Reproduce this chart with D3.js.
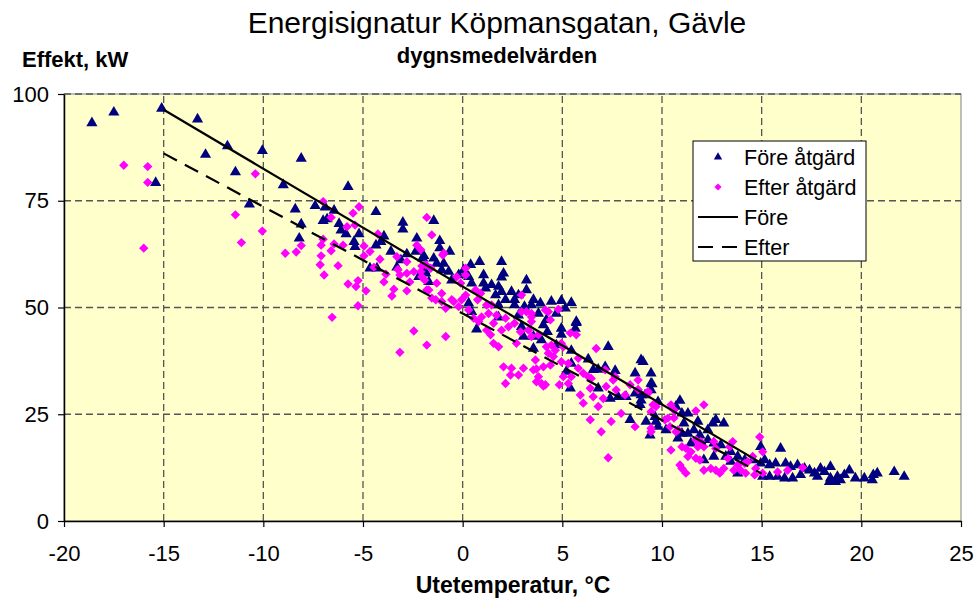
<!DOCTYPE html>
<html>
<head>
<meta charset="utf-8">
<script src="https://cdn.jsdelivr.net/npm/d3@7"></script>
<style>
  body { margin: 0; background: #fff; }
  text { font-family: "Liberation Sans", Arial, sans-serif; fill: #000; }
</style>
</head>
<body>
<svg width="976" height="602"></svg>
<script>
// dygnsmedelvärden, [utetemperatur °C, effekt kW]
const foreAtgard = [
  [-18.6,93.2],[-17.5,95.7],[-15.1,96.6],[-13.3,94.1],[-15.4,79.2],[-12.9,85.8],[-11.8,87.8],[-10.05,86.7],
  [-11.4,81.7],[-8.1,84.9],[-9.0,78.7],[-10.7,74.2],[-8.4,73.0],[-8.1,69.5],[-8.2,66.2],
  [-5.75,78.3],[-7.4,73.8],[-6.9,73.5],[-6.45,72.7],[-7.0,70.3],[-6.8,70.7],[-6.2,69.6],[-6.1,68.1],
  [-5.85,67.2],[-5.2,67.2],[-5.45,65.4],[-5.4,64.2],[-4.35,72.4],[-3.0,69.9],[-3.0,68.3],[-3.95,66.7],
  [-4.1,65.4],[-4.35,64.6],[-3.6,63.1],[-4.65,59.2],[-4.3,59.2],[-2.3,66.2],[-2.35,63.1],[-2.8,62.5],
  [-2.0,61.5],[-3.1,61.1],[-3.3,59.4],[-1.9,58.6],[-2.2,57.2],[-1.45,70.3],
  [-1.15,65.6],[-1.15,63.9],[-0.65,63.1],[-1.95,62.1],[-1.45,61.5],[-1.3,60.3],[-0.95,60.3],[-1.05,58.8],
  [-0.7,58.4],[0.4,60.0],[0.85,60.7],[1.95,60.7],[-1.85,58.0],[-1.7,56.0],[-0.55,56.4],[-0.2,57.6],
  [0.05,58.8],[0.3,57.2],[0.45,55.7],[1.05,55.7],[1.15,54.5],[1.45,55.3],[1.8,54.9],[1.95,53.7],
  [2.05,58.0],[3.2,56.4],[3.2,54.1],[2.8,52.9],[2.45,53.7],[2.6,51.8],[2.15,51.8],[1.65,52.9],
  [1.8,50.6],[2.6,50.6],[3.1,50.2],[3.55,51.8],[3.45,50.6],[0.3,51.0],[0.45,49.0],[0.7,44.9],
  [2.8,48.2],[2.95,45.5],[3.05,43.2],[3.55,43.2],[1.8,47.7],[1.05,57.6],[1.95,57.1],
  [3.9,51.0],[4.45,51.4],[4.95,51.6],[5.45,51.1],[5.15,49.8],[3.8,48.6],[4.2,47.1],[4.05,45.9],
  [4.25,44.3],[4.7,48.6],[5.7,46.4],[5.65,45.1],[4.95,45.1],[4.95,43.7],[3.95,42.4],[4.7,41.2],
  [3.55,40.4],[7.3,40.8],[5.45,39.9],[6.3,37.9],[5.45,36.9],[6.8,35.5],[7.15,36.1],[7.65,35.2],
  [9.05,37.3],[5.4,31.1],[6.8,31.1],[7.4,28.7],[7.8,29.1],[8.65,34.6],[8.65,29.9],[8.95,29.5],
  [8.9,27.2],[5.2,35.0],[8.2,29.1],[6.55,35.4],
  [8.95,37.7],[9.45,34.6],[9.45,32.2],[9.45,30.7],[9.15,29.5],[9.8,27.9],[9.2,23.3],[8.4,23.7],
  [9.65,24.4],[9.4,20.1],[5.7,46.7],
  [9.5,32.1],[8.95,28.3],[10.9,28.2],[10.7,26.8],[11.3,25.2],[9.7,23.3],[9.8,22.1],[10.2,21.3],
  [11.0,25.2],[11.1,22.9],[11.3,20.5],[11.0,20.5],[11.8,23.3],[11.6,21.3],[11.9,20.1],[12.3,21.3],
  [12.7,23.7],[12.55,22.9],[13.1,22.9],[12.3,19.0],[12.6,18.2],[12.95,17.8],[13.45,16.2],[13.8,15.1],
  [14.15,14.3],[14.55,14.3],[14.95,13.5],[13.2,15.1],[13.45,13.9],[12.6,15.1],[10.8,19.4],[11.45,18.2],
  [14.95,17.4],[13.8,11.2],[12.1,14.3],
  [15.95,17.0],[15.15,14.3],[15.4,13.1],[15.7,13.5],[16.2,13.5],[16.45,12.7],[16.8,13.1],[15.05,10.4],
  [15.4,10.4],[15.8,10.4],[16.15,10.0],[16.55,10.0],[16.95,10.8],[17.15,12.3],[17.4,11.9],[17.65,11.2],
  [17.95,12.3],[18.15,11.5],[18.45,12.7],[17.8,10.4],[18.4,9.2],[18.8,10.4],[18.95,9.6],[19.15,10.8],
  [19.4,11.9],[19.7,10.0],[20.15,10.0],[20.55,9.6],[20.6,10.8],[20.8,11.2],[21.65,11.5],[22.15,10.4],
  [18.45,10.0],[18.7,9.2]
];

const efterAtgard = [
  [-17.0,83.3],[-15.8,83.0],[-15.8,79.3],[-16.0,63.9],[-10.4,81.3],[-11.4,71.7],[-10.05,67.9],[-11.1,65.2],
  [-8.9,62.7],[-8.35,63.0],[-8.1,64.5],
  [-7.0,74.8],[-5.2,73.6],[-5.5,72.1],[-6.6,71.1],[-5.4,69.3],[-5.8,68.9],[-7.0,66.0],[-6.45,64.9],
  [-7.1,64.6],[-6.0,64.6],[-6.6,63.3],[-7.1,62.1],[-7.15,60.0],[-6.25,59.8],[-6.95,57.6],[-4.95,64.4],
  [-4.65,63.1],[-4.95,62.1],[-4.25,67.2],[-4.15,61.3],[-4.45,59.4],[-3.85,57.8],[-3.95,56.0],[-5.25,56.3],
  [-5.75,55.5],[-5.35,54.9],[-4.85,53.9],[-3.45,54.3],[-3.55,52.7],[-5.25,50.4],[-6.55,47.7],[-3.3,61.9],
  [-3.25,58.9],[-3.15,57.6],[-2.8,60.7],[-2.8,58.0],[-2.65,56.0],[-2.8,53.9],[-2.3,64.6],[-2.45,58.4],
  [-2.05,59.7],[-1.8,71.1],[-2.45,44.5],[-3.15,39.5],[-1.8,41.2],[-1.8,54.1],[-1.9,56.4],[-1.55,67.0],
  [-1.0,62.3],[-1.85,60.0],[-1.6,59.2],[-2.1,58.4],[-2.05,57.2],[-1.3,55.7],[-1.7,54.1],[-1.05,53.3],
  [-1.35,51.8],[-0.85,49.8],[-0.45,51.4],[-0.2,50.2],[-0.1,55.7],[-0.3,57.2],[0.15,57.6],[-0.05,51.8],
  [0.15,52.9],[0.65,54.1],[0.9,53.3],[0.75,51.8],[0.3,49.4],[0.55,47.5],[0.8,46.7],[0.95,47.8],
  [1.3,48.6],[1.2,50.6],[1.45,50.6],[1.7,48.2],[1.55,46.3],[1.2,44.7],[1.4,43.6],[2.15,47.5],
  [1.95,44.7],[2.3,45.5],[2.6,46.3],[2.95,49.0],[3.2,49.0],[3.45,47.8],[2.95,52.9],[2.9,44.3],
  [3.3,44.7],[2.7,41.6],[1.8,40.8],[-0.85,43.2],[0.15,59.2],[-2.1,63.5],[-0.95,62.7],[-0.55,51.8],
  [-1.05,51.4],[-1.55,52.2],
  [2.05,36.1],[2.45,35.8],[3.05,35.8],[2.4,34.2],[2.8,34.2],[2.15,32.2],[1.55,41.6],
  [4.15,49.4],[4.3,49.0],[4.8,49.6],[4.4,47.1],[3.45,46.7],[5.4,44.0],[5.7,43.6],[3.45,43.2],
  [3.8,43.6],[4.2,40.8],[4.45,41.2],[4.95,41.6],[5.05,40.8],[4.65,40.0],[4.55,38.5],[4.3,39.3],
  [3.65,37.7],[4.4,36.5],[4.05,36.1],[3.7,35.6],[3.8,33.8],[3.95,32.2],[4.15,31.9],[3.7,32.6],
  [3.55,35.4],[4.05,31.6],[4.95,37.3],[5.3,36.9],[5.8,38.1],[5.8,35.8],[6.7,40.4],[5.05,33.8],
  [5.45,33.8],[6.05,34.6],[6.3,33.8],[6.45,33.4],[5.3,32.2],[4.85,31.9],[7.15,35.4],[7.65,33.8],
  [7.2,31.5],[7.55,33.0],[7.7,30.7],[6.4,31.1],[5.9,29.5],[6.55,29.1],[6.05,27.6],[7.05,28.7],
  [6.8,26.8],[8.4,31.9],[8.8,30.8],[8.15,29.5],[3.45,48.6],
  [8.8,33.0],[9.3,29.9],[9.45,25.6],[8.65,22.1],[7.45,23.3],[6.95,20.9],[6.4,23.7],[7.95,25.2],
  [10.15,23.7],[10.4,22.1],[10.6,24.1],[10.7,20.9],[9.45,20.9],[7.3,14.8],
  [9.3,30.3],[9.55,27.2],[9.7,26.8],[10.45,27.2],[10.6,26.0],[12.1,27.2],[11.7,25.8],[10.3,24.1],
  [10.8,21.3],[9.45,21.7],[10.45,16.6],[11.0,17.4],[11.2,17.0],[11.45,16.2],[11.3,15.1],[11.7,14.7],
  [11.9,14.3],[10.9,13.1],[11.0,12.3],[11.2,11.2],[11.7,19.0],[11.95,18.6],[12.1,17.4],[11.8,17.4],
  [12.7,17.0],[12.6,18.6],[13.55,18.6],[13.4,17.4],[12.1,11.9],[12.45,12.3],[12.7,11.9],[12.9,11.2],
  [13.1,12.3],[13.3,14.7],[13.8,13.1],[14.15,13.5],[14.3,13.9],[13.6,11.9],[13.95,11.9],[14.55,15.1],
  [14.7,12.3],[14.2,11.2],[14.65,10.8],[14.9,19.7],[15.05,16.2],
  [15.05,11.2],[15.8,11.5],[16.3,11.9],[17.05,12.5]
];

// linjer (före / efter åtgärd)
const foreLinje = [[-15, 96.3], [15, 13.5]];
const efterLinje = [[-15, 86.1], [15, 11.1]];

const xTicks = [-20, -15, -10, -5, 0, 5, 10, 15, 20, 25];
const yTicks = [0, 25, 50, 75, 100];

const svg = d3.select("svg");

const x = d3.scaleLinear().domain([-20, 25]).range([64, 961]);
const y = d3.scaleLinear().domain([0, 100]).range([521, 94]);

// plotyta
svg.append("rect")
  .attr("x", x(-20)).attr("y", y(100))
  .attr("width", x(25) - x(-20)).attr("height", y(0) - y(100))
  .attr("fill", "#FFFFCC")
  .attr("stroke", "#808080")
  .attr("stroke-width", 1);

// rutnät
const grid = svg.append("g")
  .attr("stroke", "#555")
  .attr("stroke-width", 1.3)
  .attr("stroke-dasharray", "7,4");
grid.selectAll("line.v")
  .data(xTicks.slice(1, -1))
  .join("line")
  .attr("x1", d => x(d)).attr("x2", d => x(d))
  .attr("y1", y(0)).attr("y2", y(100));
grid.selectAll("line.h")
  .data(yTicks.slice(1))
  .join("line")
  .attr("class", "h")
  .attr("x1", x(-20)).attr("x2", x(25))
  .attr("y1", d => y(d)).attr("y2", d => y(d));

// axlar
const xAxis = svg.append("g")
  .attr("transform", `translate(0,${y(0)})`)
  .call(d3.axisBottom(x).tickValues(xTicks).tickFormat(d => String(d))
    .tickSize(6).tickPadding(18).tickSizeOuter(0));
const yAxis = svg.append("g")
  .attr("transform", `translate(${x(-20)},0)`)
  .call(d3.axisLeft(y).tickValues(yTicks).tickFormat(d => String(d))
    .tickSize(6).tickPadding(9).tickSizeOuter(0));
[xAxis, yAxis].forEach(a => {
  a.select(".domain").attr("stroke", "#000").attr("stroke-width", 1.5);
  a.selectAll(".tick line").attr("stroke", "#000").attr("stroke-width", 1.2);
  a.selectAll("text")
    .attr("font-family", "Liberation Sans, Arial, sans-serif")
    .attr("font-size", 22)
    .attr("fill", "#000");
});

// punkter
const tri = d3.symbol().type(d3.symbolTriangle).size(54);
const dia = d3.symbol().type(d3.symbolSquare).size(44);

svg.append("g")
  .selectAll("path")
  .data(foreAtgard)
  .join("path")
  .attr("d", tri)
  .attr("fill", "#000080")
  .attr("transform", d => `translate(${x(d[0])},${y(d[1])})`);

svg.append("g")
  .selectAll("path")
  .data(efterAtgard)
  .join("path")
  .attr("d", dia)
  .attr("fill", "#FF00FF")
  .attr("transform", d => `translate(${x(d[0])},${y(d[1])}) rotate(45)`);

const line = d3.line().x(d => x(d[0])).y(d => y(d[1]));

svg.append("path")
  .datum(foreLinje)
  .attr("d", line)
  .attr("fill", "none")
  .attr("stroke", "#000")
  .attr("stroke-width", 2.2);

svg.append("path")
  .datum(efterLinje)
  .attr("d", line)
  .attr("fill", "none")
  .attr("stroke", "#000")
  .attr("stroke-width", 2.2)
  .attr("stroke-dasharray", "15,9");

// rubriker
svg.append("text")
  .attr("x", 497).attr("y", 33)
  .attr("text-anchor", "middle")
  .attr("font-size", 30)
  .text("Energisignatur Köpmansgatan, Gävle");

svg.append("text")
  .attr("x", 497).attr("y", 63)
  .attr("text-anchor", "middle")
  .attr("font-size", 22)
  .attr("font-weight", "bold")
  .text("dygnsmedelvärden");

svg.append("text")
  .attr("x", 22).attr("y", 67)
  .attr("font-size", 22)
  .attr("font-weight", "bold")
  .text("Effekt, kW");

svg.append("text")
  .attr("x", 513).attr("y", 593)
  .attr("text-anchor", "middle")
  .attr("font-size", 23)
  .attr("font-weight", "bold")
  .text("Utetemperatur, °C");

// legend
const legend = svg.append("g");
legend.append("rect")
  .attr("x", 693).attr("y", 141)
  .attr("width", 173).attr("height", 120)
  .attr("fill", "#fff")
  .attr("stroke", "#000");

const legendItems = [
  { label: "Före åtgärd", type: "tri" },
  { label: "Efter åtgärd", type: "dia" },
  { label: "Före", type: "solid" },
  { label: "Efter", type: "dash" }
];

legendItems.forEach((it, i) => {
  const cy = 157 + i * 30;
  if (it.type === "tri") {
    legend.append("path")
      .attr("d", d3.symbol().type(d3.symbolTriangle).size(30))
      .attr("fill", "#000080")
      .attr("transform", `translate(718,${cy})`);
  } else if (it.type === "dia") {
    legend.append("path")
      .attr("d", d3.symbol().type(d3.symbolSquare).size(26))
      .attr("fill", "#FF00FF")
      .attr("transform", `translate(718,${cy}) rotate(45)`);
  } else {
    legend.append("line")
      .attr("x1", 698).attr("x2", 738)
      .attr("y1", cy).attr("y2", cy)
      .attr("stroke", "#000")
      .attr("stroke-width", 2.2)
      .attr("stroke-dasharray", it.type === "dash" ? "15,9" : null);
  }
  legend.append("text")
    .attr("x", 744).attr("y", cy)
    .attr("dy", "0.35em")
    .attr("font-size", 21.5)
    .text(it.label);
});
</script>
</body>
</html>
